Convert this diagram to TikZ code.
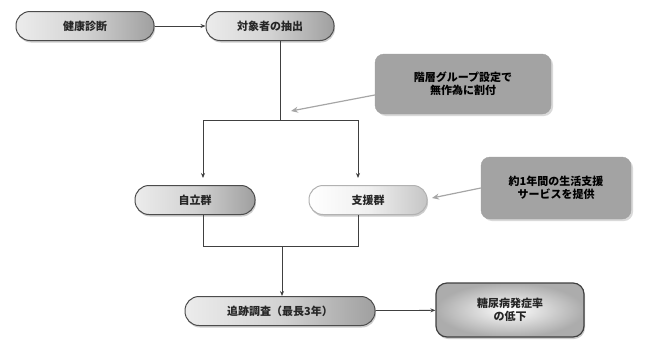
\documentclass[tikz,border=0pt]{standalone}
\usepackage{fontspec}
\newfontfamily\jp{Noto Sans CJK JP}
\usetikzlibrary{shadows,arrows.meta}
\begin{document}
\begin{tikzpicture}[x=1pt,y=-1pt,
  pill/.style={rounded corners=14pt,minimum height=29pt,draw=black!70,line width=1pt,
    left color=gray!15,right color=gray!75,middle color=gray!35,
    drop shadow={shadow xshift=1pt,shadow yshift=-2pt,opacity=0.4},
    font=\jp\bfseries\fontsize{11}{13}\selectfont,text=black!85},
  pilllight/.style={pill,draw=gray!60,left color=white,right color=gray!45,middle color=gray!12},
  dark/.style={rounded corners=9pt,fill=gray!72,draw=gray!75,align=center,
    font=\jp\bfseries\fontsize{11}{13}\selectfont,text=black,
    drop shadow={shadow xshift=2pt,shadow yshift=-2pt,opacity=0.3}},
  res/.style={rounded corners=11pt,draw=black!75,line width=1.2pt,align=center,
    inner color=white,outer color=gray!65,
    drop shadow={shadow xshift=1pt,shadow yshift=-2pt,opacity=0.4},
    font=\jp\bfseries\fontsize{11}{13}\selectfont,text=black!85},
  ln/.style={draw=black!75,line width=0.8pt},
  arr/.style={ln,-{Stealth[length=5pt,width=4pt]}},
  garr/.style={draw=gray!70,line width=1.2pt,-{Stealth[length=7pt,width=6pt]}}]
\useasboundingbox (0,0) rectangle (645,343);
\node[pill,minimum width=138pt] (kenshin) at (85,26) {健康診断};
\node[pill,minimum width=128pt] (taisho) at (270,26) {対象者の抽出};
\node[pill,minimum width=120pt] (jiritsu) at (195,200) {自立群};
\node[pilllight,minimum width=118pt] (shien) at (368,200) {支援群};
\node[pill,minimum width=190pt] (tsuiseki) at (280,311) {追跡調査（最長3年）};
\node[res,minimum width=148pt,minimum height=54pt] (result) at (510,310) {糖尿病発症率\\の低下};
\node[dark,minimum width=176pt,minimum height=60pt] (c1) at (463,84) {階層グループ設定で\\無作為に割付};
\node[dark,minimum width=150pt,minimum height=62pt] (c2) at (556,188) {約1年間の生活支援\\サービスを提供};
\coordinate (split) at (280,120);
\coordinate (join) at (282,246);
\draw[arr] (kenshin) -- (taisho);
\draw[ln] (taisho.south -| split) -- (split);
\draw[arr] (split) -- (203,120) -- (203,178);
\draw[arr] (split) -- (358,120) -- (358,178);
\draw[ln] (jiritsu.south -| 203,0) -- (203,246) -- (358,246) -- (shien.south -| 358,0);
\draw[arr] (join) -- (tsuiseki.north -| join);
\draw[arr] (tsuiseki) -- (result);
\draw[garr] (c1.west |- 0,95) -- (291,111);
\draw[garr] (c2.west) -- (432,198);
\end{tikzpicture}
\end{document}
